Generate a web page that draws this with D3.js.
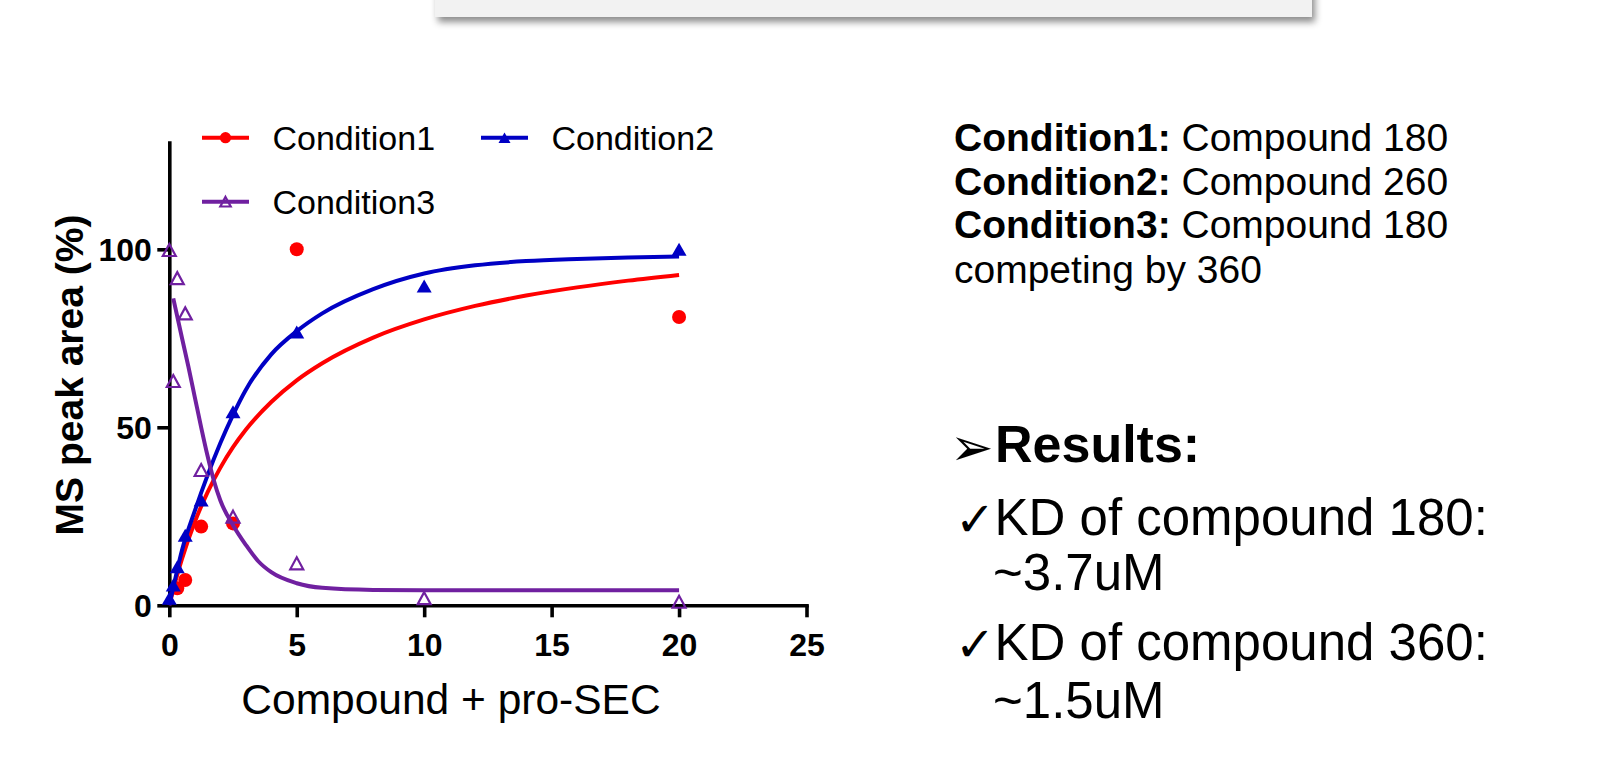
<!DOCTYPE html>
<html><head><meta charset="utf-8">
<script src="https://cdn.jsdelivr.net/npm/d3@7"></script>
<style>
body{margin:0;background:#fff}
svg{display:block}
text{font-family:"Liberation Sans",Arial,Helvetica,sans-serif;fill:#000}
</style>
</head><body>
<svg id="c" width="1604" height="757"></svg>
<script>
// ---- data ----
const xTicks = [0, 5, 10, 15, 20, 25];
const yTicks = [0, 50, 100];
const seriesNames = ["Condition1", "Condition2", "Condition3"];

// measured points
const c1X = [0.3125, 0.625, 1.25, 2.5, 5, 20];
const c1Y = [4.8, 7.1, 22.1, 23.0, 100, 81.0];
const c2X = [0, 0.156, 0.3125, 0.625, 1.25, 2.5, 5, 10, 20];
const c2Y = [2.0, 5.7, 10.8, 19.7, 29.6, 54.4, 76.8, 89.7, 100];
const c3X = [0, 0.156, 0.3125, 0.625, 1.25, 2.5, 5, 10, 20];
const c3Y = [99.8, 63.0, 91.9, 82.0, 38.0, 24.9, 11.8, 2.0, 1.0];

// fitted curves
const fitX = [0, 0.25, 0.5, 1, 1.5, 2, 2.5, 3, 4, 5, 6, 8, 10, 12, 14, 16, 18, 20];
const fit1Y = [0, 7.0, 13.1, 23.4, 31.7, 38.6, 44.4, 49.3, 57.1, 63.2, 68.0, 75.2, 80.3, 84.1, 87.0, 89.3, 91.2, 92.8];
const fit2Y = [0, 8.0, 15.5, 26.5, 36.5, 45.5, 53.5, 60.5, 70.5, 77.0, 82.0, 88.8, 93.2, 95.5, 96.7, 97.3, 97.7, 98.0];
const fit3X = [0.156, 0.5, 0.75, 1, 1.25, 1.5, 1.75, 2, 2.5, 3, 3.5, 4, 5, 6, 8, 10, 14, 20];
const fit3Y = [86.2, 75.0, 67.0, 58.5, 50.0, 42.0, 35.0, 29.5, 22.5, 17.0, 12.3, 9.3, 6.2, 4.9, 4.3, 4.2, 4.2, 4.2];

const xTitle = "Compound + pro-SEC";
const yTitle = "MS peak area (%)";
const notes = [
  ["Condition1:", " Compound 180"],
  ["Condition2:", " Compound 260"],
  ["Condition3:", " Compound 180"],
  ["", "competing by 360"]
];
const results = ["KD of compound 180:", "~3.7uM", "KD of compound 360:", "~1.5uM"];

// ---- drawing ----
const colors = ["#ff0000", "#0000c4", "#7020a0"];
const svg = d3.select("#c");

// top slide box with shadow
const defs = svg.append("defs");
const f = defs.append("filter").attr("id", "sh").attr("x", "-5%").attr("y", "-50%").attr("width", "110%").attr("height", "250%");
f.append("feDropShadow").attr("dx", 3).attr("dy", 5).attr("stdDeviation", 3.5).attr("flood-color", "#000").attr("flood-opacity", 0.45);
svg.append("rect").attr("x", 435).attr("y", -20).attr("width", 877).attr("height", 37)
  .attr("fill", "#f2f2f2").attr("filter", "url(#sh)");

const x = d3.scaleLinear().domain([0, 25]).range([169.3, 806.5]);
const y = d3.scaleLinear().domain([0, 130]).range([605.3, 142.5]);

const AX_W = 3.6;
const gx = svg.append("g").attr("transform", `translate(0,${y(0)})`)
  .call(d3.axisBottom(x).tickValues(xTicks).tickSize(12).tickSizeOuter(0));
gx.select(".domain").attr("stroke", "#000").attr("stroke-width", AX_W);
gx.selectAll(".tick line").attr("stroke", "#000").attr("stroke-width", AX_W);
gx.selectAll(".tick text").attr("y", 51).attr("dy", 0)
  .style("font-size", "32px").style("font-weight", "bold");

const gy = svg.append("g").attr("transform", `translate(${x(0)},0)`)
  .call(d3.axisLeft(y).tickValues(yTicks).tickSize(12).tickSizeOuter(0));
gy.select(".domain").attr("stroke", "#000").attr("stroke-width", AX_W);
gy.selectAll(".tick line").attr("stroke", "#000").attr("stroke-width", AX_W);
gy.selectAll(".tick text").attr("x", -17.5).attr("dy", "0.36em")
  .style("font-size", "32px").style("font-weight", "bold");
svg.selectAll(".domain").attr("stroke-linecap", "square");

// titles
svg.append("text").attr("x", 451).attr("y", 714).attr("text-anchor", "middle")
  .style("font-size", "42.5px").text(xTitle);
svg.append("text").attr("transform", "translate(83,375) rotate(-90)").attr("text-anchor", "middle")
  .style("font-size", "39px").style("font-weight", "bold").text(yTitle);

// curves
const line = d3.line().x(d => x(d[0])).y(d => y(d[1])).curve(d3.curveMonotoneX);
const fits = [
  d3.zip(fitX, fit1Y),
  d3.zip(fitX, fit2Y),
  d3.zip(fit3X, fit3Y)
];
const pts = [d3.zip(c1X, c1Y), d3.zip(c2X, c2Y), d3.zip(c3X, c3Y)];

function tri(w, h) { return `M0,${-h / 2}L${w / 2},${h / 2}L${-w / 2},${h / 2}Z`; }
function drawMarker(g, i, scale) {
  if (i === 0) g.append("circle").attr("r", 7 * scale).attr("fill", colors[0]);
  else if (i === 1) g.append("path").attr("d", tri(15 * scale, 13 * scale)).attr("fill", colors[1]);
  else g.append("path").attr("d", tri(13 * scale, 12 * scale)).attr("fill", "none")
    .attr("stroke", colors[2]).attr("stroke-width", 2.2);
}

[0, 1, 2].forEach(i => {
  svg.append("path").datum(fits[i]).attr("d", line).attr("fill", "none")
    .attr("stroke", colors[i]).attr("stroke-width", 4);
  pts[i].forEach(p => {
    const g = svg.append("g").attr("transform", `translate(${x(p[0])},${y(p[1])})`);
    drawMarker(g, i, 1);
  });
});

// legend
const legPos = [[202, 137.7], [481, 137.7], [202, 201.7]];
seriesNames.forEach((n, i) => {
  const [lx, ly] = legPos[i];
  svg.append("line").attr("x1", lx).attr("x2", lx + 47).attr("y1", ly).attr("y2", ly)
    .attr("stroke", colors[i]).attr("stroke-width", 4);
  const g = svg.append("g").attr("transform", `translate(${lx + 23.5},${ly})`);
  drawMarker(g, i, 0.8);
  svg.append("text").attr("x", lx + 70.5).attr("y", ly + 12.5).style("font-size", "34px").text(n);
});

// right-hand notes
const noteBase = [151, 194.5, 238, 283];
notes.forEach((n, i) => {
  const t = svg.append("text").attr("x", 954).attr("y", noteBase[i]).style("font-size", "39px");
  if (n[0]) t.append("tspan").style("font-weight", "bold").text(n[0]);
  t.append("tspan").text(n[1]);
});

// results block
svg.append("text").attr("x", 950).attr("y", 464.5)
  .style("font-family", "'DejaVu Sans',sans-serif").style("font-size", "52px").text("\u27A2");
svg.append("text").attr("x", 995).attr("y", 461.7).style("font-size", "52px").style("font-weight", "bold").text("Results:");
const resBase = [535, 590, 660, 718];
results.forEach((r, i) => {
  if (i % 2 === 0) {
    svg.append("text").attr("x", 955).attr("y", resBase[i] + 1)
      .style("font-family", "'DejaVu Sans',sans-serif").style("font-size", "48px").text("\u2713");
  }
  svg.append("text").attr("x", i % 2 === 0 ? 994.5 : 993).attr("y", resBase[i]).style("font-size", "51px").text(r);
});
</script>
</body></html>
